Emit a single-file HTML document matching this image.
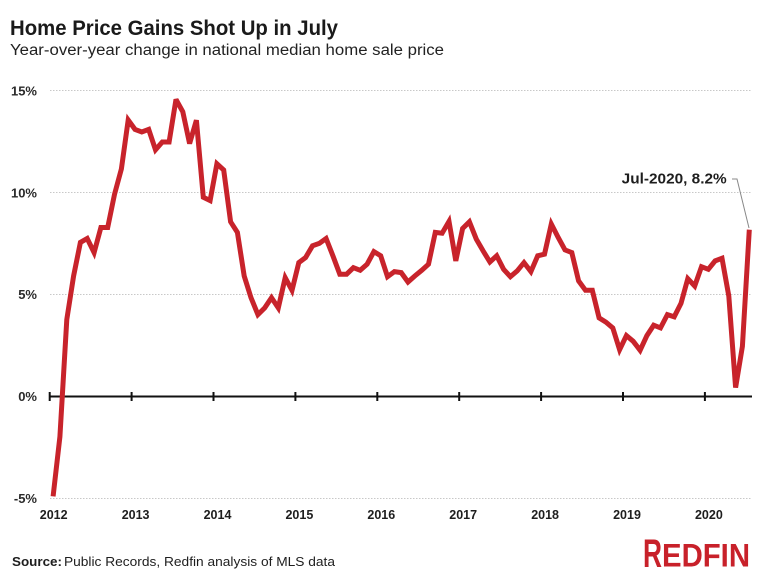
<!DOCTYPE html>
<html>
<head>
<meta charset="utf-8">
<style>
html,body{margin:0;padding:0;background:#fff;}
body{width:768px;height:576px;overflow:hidden;}
svg{display:block;}
text{font-family:"Liberation Sans",sans-serif;}
</style>
</head>
<body>
<svg width="768" height="576" viewBox="0 0 768 576" xmlns="http://www.w3.org/2000/svg">
<rect width="768" height="576" fill="#fff"/>
<!-- title -->
<text x="10" y="35" font-size="21" font-weight="bold" fill="#1a1a1a" textLength="328" lengthAdjust="spacingAndGlyphs">Home Price Gains Shot Up in July</text>
<text x="10" y="55" font-size="15.5" fill="#222" textLength="434" lengthAdjust="spacingAndGlyphs">Year-over-year change in national median home sale price</text>

<!-- gridlines -->
<g stroke="#c8c8c8" stroke-width="1" stroke-dasharray="1.5,1.5">
<line x1="50" y1="90.5" x2="752" y2="90.5"/>
<line x1="50" y1="192.5" x2="752" y2="192.5"/>
<line x1="50" y1="294.5" x2="752" y2="294.5"/>
<line x1="50" y1="498.5" x2="752" y2="498.5"/>
</g>

<!-- y labels -->
<g font-size="13" font-weight="bold" fill="#2a2a2a" text-anchor="end">
<text x="37" y="95.5">15%</text>
<text x="37" y="197.5">10%</text>
<text x="37" y="299">5%</text>
<text x="37" y="401">0%</text>
<text x="37" y="503">-5%</text>
</g>

<!-- zero axis -->
<g stroke="#111" stroke-width="2">
<line x1="49.7" y1="396.5" x2="752" y2="396.5"/>
<line x1="49.7" y1="392" x2="49.7" y2="401"/>
<line x1="131.6" y1="392" x2="131.6" y2="401"/>
<line x1="213.5" y1="392" x2="213.5" y2="401"/>
<line x1="295.4" y1="392" x2="295.4" y2="401"/>
<line x1="377.3" y1="392" x2="377.3" y2="401"/>
<line x1="459.2" y1="392" x2="459.2" y2="401"/>
<line x1="541.1" y1="392" x2="541.1" y2="401"/>
<line x1="623" y1="392" x2="623" y2="401"/>
<line x1="704.9" y1="392" x2="704.9" y2="401"/>
</g>

<!-- x labels -->
<g font-size="12.5" font-weight="bold" fill="#1e1e1e" text-anchor="middle">
<text x="53.7" y="519">2012</text>
<text x="135.6" y="519">2013</text>
<text x="217.5" y="519">2014</text>
<text x="299.4" y="519">2015</text>
<text x="381.3" y="519">2016</text>
<text x="463.2" y="519">2017</text>
<text x="545.1" y="519">2018</text>
<text x="627" y="519">2019</text>
<text x="708.9" y="519">2020</text>
</g>

<!-- series -->
<polyline fill="none" stroke="#c8232b" stroke-width="5" stroke-linejoin="miter" stroke-miterlimit="3" points="
53.1,496.4 59.9,436.8 66.8,319.5 73.6,276.0 80.4,242.4 87.2,238.5 94.1,252.6 100.9,227.5 107.7,227.5 114.5,194.4 121.4,168.9 128.2,120.0
135.0,129.4 141.8,132.0 148.7,129.4 155.5,149.8 162.3,142.0 169.1,142.0 176.0,99.4 182.8,111.8 189.6,143.6 196.4,120.2 203.3,197.3 210.1,200.6
216.9,163.8 223.7,170.0 230.6,221.8 237.4,232.4 244.2,276.0 251.0,297.7 257.9,314.6 264.7,307.9 271.5,297.7 278.3,307.9 285.2,277.7 292.0,290.3
298.8,262.6 305.6,257.5 312.5,245.8 319.3,243.4 326.1,238.5 332.9,255.8 339.8,274.2 346.6,274.2 353.4,267.7 360.2,270.3 367.1,264.2 373.9,251.6
380.7,255.8 387.5,276.7 394.4,271.6 401.2,272.6 408.0,282.0 414.8,276.0 421.7,270.3 428.5,264.2 435.3,232.4 442.1,233.2 449.0,221.4 455.8,260.9
462.6,228.5 469.4,221.8 476.3,239.1 483.1,250.9 489.9,262.0 496.7,255.8 503.6,269.3 510.4,276.7 517.2,270.9 524.0,262.6 530.9,271.6 537.7,255.8
544.5,254.2 551.3,224.0 558.2,237.5 565.0,249.9 571.8,252.6 578.6,280.9 585.5,290.3 592.3,290.3 599.1,317.9 605.9,322.1 612.8,327.9 619.6,349.7
626.4,335.6 633.2,341.3 640.1,350.3 646.9,335.6 653.7,325.2 660.5,327.9 667.4,314.6 674.2,316.8 681.0,303.4 687.8,278.7 694.7,286.0 701.5,266.7
708.3,269.3 715.1,260.9 722.0,258.3 728.8,296.0 735.6,387.6 742.4,346.4 749.3,229.7"/>

<!-- annotation -->
<polyline fill="none" stroke="#888" stroke-width="1" points="732,179 737,179 749,228"/>
<text x="726.7" y="183.3" font-size="14.5" font-weight="bold" fill="#1e1e1e" text-anchor="end" textLength="105" lengthAdjust="spacingAndGlyphs">Jul-2020, 8.2%</text>

<!-- source -->
<text x="12" y="566" font-size="13" font-weight="bold" fill="#1e1e1e" textLength="50" lengthAdjust="spacingAndGlyphs">Source:</text>
<text x="64" y="566" font-size="13" fill="#1e1e1e" textLength="271" lengthAdjust="spacingAndGlyphs">Public Records, Redfin analysis of MLS data</text>

<!-- logo -->
<text x="643" y="567" font-size="40" font-weight="bold" fill="#c8212a" textLength="19" lengthAdjust="spacingAndGlyphs">R</text>
<text x="662" y="566.5" font-size="32" font-weight="bold" fill="#c8212a" textLength="88" lengthAdjust="spacingAndGlyphs">EDFIN</text>
</svg>
</body>
</html>
